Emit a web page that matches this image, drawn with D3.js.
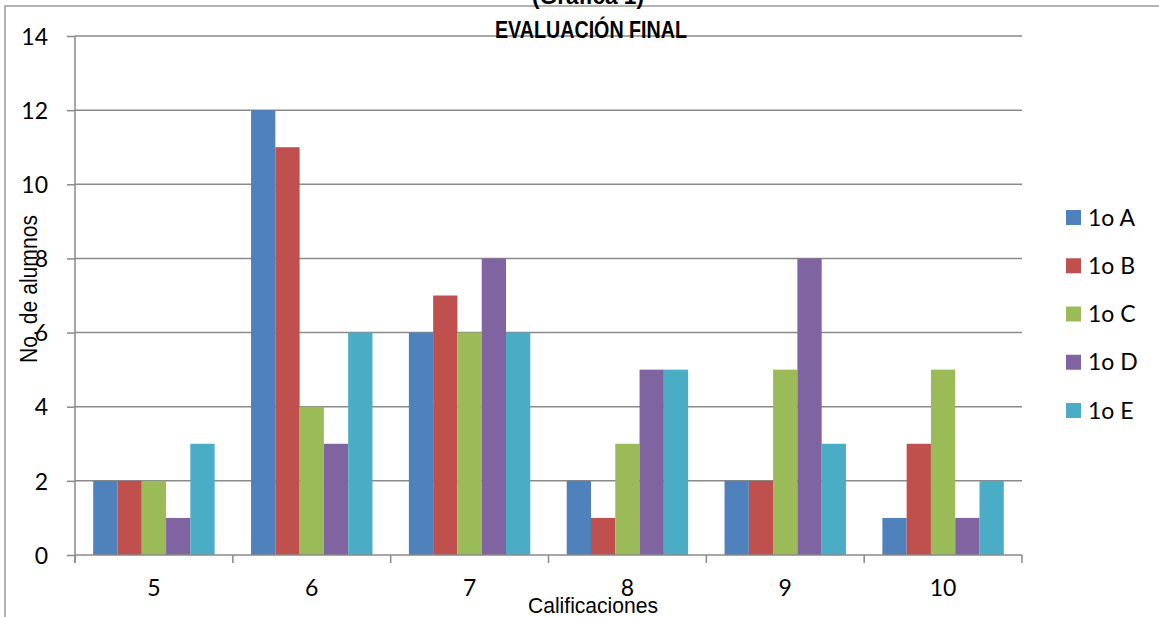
<!DOCTYPE html>
<html><head><meta charset="utf-8">
<script src="https://cdn.jsdelivr.net/npm/d3@7"></script>
<style>body{margin:0;background:#fff}svg{display:block}</style>
</head><body>
<svg id="c" width="1159" height="617"></svg>
<script>
const categories = ["5","6","7","8","9","10"];
const seriesNames = ["1o A","1o B","1o C","1o D","1o E"];
const s1oA = [2,12,6,2,2,1];
const s1oB = [2,11,7,1,2,3];
const s1oC = [2,4,6,3,5,5];
const s1oD = [1,3,8,5,8,1];
const s1oE = [3,6,6,5,3,2];
const yTicks = [0,2,4,6,8,10,12,14];
const colors = ["#4F81BD","#C0504D","#9BBB59","#8064A2","#4BACC6"];
const seriesValues = [s1oA,s1oB,s1oC,s1oD,s1oE];

const svg = d3.select("#c");
const L=75,R=1022,T=36,B=555;
const narrow = "'Liberation Sans Narrow','Arial Narrow','Liberation Sans',sans-serif";
const calib = "Lato,'Open Sans',sans-serif";

// outer border
svg.append("path").attr("d","M5,617V6H1159").attr("fill","none").attr("stroke","#9a9a9a").attr("stroke-width",1.5);

const x0 = d3.scaleBand().domain(categories).range([L,R]).padding(0);
const x1 = d3.scaleBand().domain(seriesNames).range([0,x0.bandwidth()]).paddingInner(0).paddingOuter(0.75);
const y = d3.scaleLinear().domain([0,14]).range([B,T]);

// gridlines
svg.append("g").selectAll("line").data(yTicks.filter(d=>d>0)).join("line")
  .attr("x1",L).attr("x2",R).attr("y1",d=>y(d)).attr("y2",d=>y(d))
  .attr("stroke","#8a8a8a").attr("stroke-width",1.5);

// bars
const rows = [];
categories.forEach((c,i)=>seriesNames.forEach((s,j)=>rows.push({c,s,v:seriesValues[j][i],j})));
svg.append("g").selectAll("rect").data(rows).join("rect")
  .attr("x",d=>x0(d.c)+x1(d.s)).attr("width",x1.bandwidth())
  .attr("y",d=>y(d.v)).attr("height",d=>y(0)-y(d.v))
  .attr("fill",d=>colors[d.j]);

// y axis
const ya = svg.append("g").attr("transform",`translate(${L},0)`)
  .call(d3.axisLeft(y).tickValues(yTicks).tickSize(8).tickPadding(19).tickFormat(d3.format("d")));
ya.select(".domain").attr("d",`M0,${T}V${B+8}`).attr("stroke","#8a8a8a").attr("stroke-width",1.5);
ya.selectAll(".tick line").attr("stroke","#8a8a8a").attr("stroke-width",1.5);
ya.selectAll(".tick text").attr("font-family",calib).attr("font-size",23).attr("fill","#000").attr("dy","0.36em");

// x axis
const xa = svg.append("g").attr("transform",`translate(0,${B})`)
  .call(d3.axisBottom(x0).tickSize(0).tickPadding(25));
xa.select(".domain").attr("d",`M${L},0H${R}`).attr("stroke","#8a8a8a").attr("stroke-width",1.5);
xa.selectAll(".tick text").attr("font-family",calib).attr("font-size",23).attr("fill","#000");
const bounds = categories.map(c=>x0(c)).concat([R]);
svg.append("g").selectAll("line").data(bounds).join("line")
  .attr("x1",d=>d).attr("x2",d=>d).attr("y1",B).attr("y2",B+8)
  .attr("stroke","#8a8a8a").attr("stroke-width",1.5);

// titles
svg.append("text").attr("x",588).attr("y",4).attr("text-anchor","middle")
  .attr("font-family",narrow).attr("font-weight","bold").attr("font-size",23)
  .attr("textLength",112).attr("lengthAdjust","spacingAndGlyphs").text("(Gráfica 1)");
svg.append("text").attr("x",591).attr("y",38).attr("text-anchor","middle")
  .attr("font-family",narrow).attr("font-weight","bold").attr("font-size",23)
  .attr("textLength",192).attr("lengthAdjust","spacingAndGlyphs").text("EVALUACIÓN FINAL");
svg.append("text").attr("x",593).attr("y",613).attr("text-anchor","middle")
  .attr("font-family",narrow).attr("font-size",22)
  .attr("textLength",130).attr("lengthAdjust","spacingAndGlyphs").text("Calificaciones");
svg.append("text").attr("transform","translate(37,289) rotate(-90)").attr("text-anchor","middle")
  .attr("font-family",narrow).attr("font-size",23)
  .attr("textLength",148).attr("lengthAdjust","spacingAndGlyphs").text("No. de alumnos");

// legend
const lg = svg.append("g").selectAll("g").data(seriesNames).join("g")
  .attr("transform",(d,i)=>`translate(1066,${210+i*48.25})`);
lg.append("rect").attr("width",15).attr("height",15).attr("fill",(d,i)=>colors[i]);
lg.append("text").attr("x",22).attr("y",15.5).attr("font-family",calib).attr("font-size",23).text(d=>d);
</script>
</body></html>
